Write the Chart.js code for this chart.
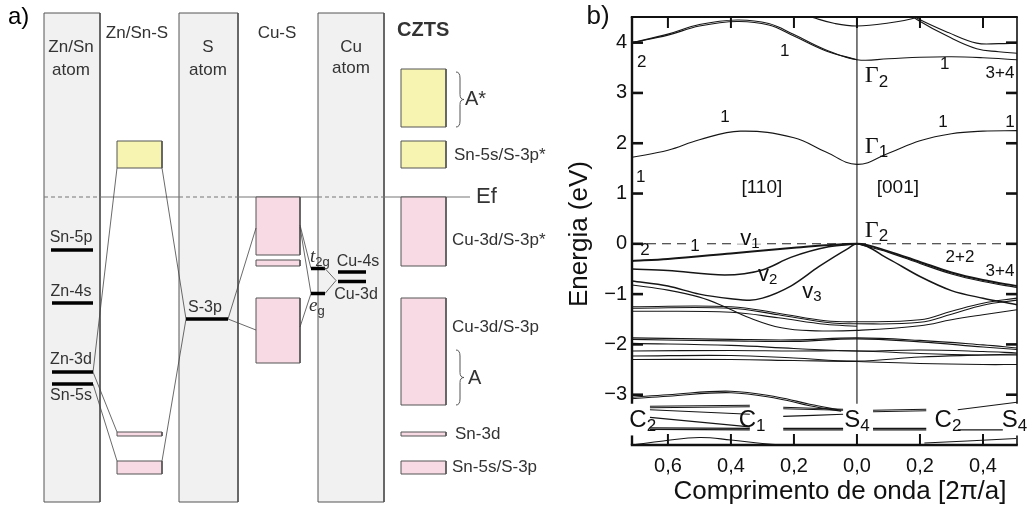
<!DOCTYPE html>
<html>
<head>
<meta charset="utf-8">
<script src="https://cdn.jsdelivr.net/npm/chart.js@4.4.1/dist/chart.umd.min.js"></script>
<style>
  body { margin: 0; background: #fff; width: 1031px; height: 512px; overflow: hidden; position: relative; }
  #ca { position: absolute; left: 0; top: 0; }
  #cb { position: absolute; left: 515px; top: 0; }
</style>
</head>
<body>
<canvas id="ca" width="620" height="512"></canvas>
<canvas id="cb" width="516" height="512"></canvas>
<script>
const FONT = '"Liberation Sans", Arial, sans-serif';
const SERIF = '"Liberation Serif", "Times New Roman", serif';

// ---------- panel a: orbital diagram (x in diagram units, y in energy a.u., Ef = 0) ----------
const atomCols = [[44, 100], [179, 238], [318, 384]];      // Zn/Sn, S, Cu atom
const colTop = 3.68, colBottom = -6.1;
const yellowBoxes = [[117, 162, 1.12, 0.58], [401, 446, 2.56, 1.40], [401, 446, 1.12, 0.58]];
const pinkBoxes = [
	[117, 162, -4.70, -4.78], [117, 162, -5.28, -5.54],
	[256, 300, 0, -1.16], [256, 300, -1.26, -1.38], [256, 300, -2.02, -3.32],
	[401, 446, 0, -1.38], [401, 446, -2.02, -4.16], [401, 446, -4.70, -4.78], [401, 446, -5.28, -5.54]
];
// Sn-5p, Zn-4s, Zn-3d, Sn-5s, S-3p, t2g, eg, Cu-4s, Cu-3d
const levelBars = [
	[51, 93, -1.06], [52, 93, -2.12], [52, 93, -3.50], [52, 93, -3.74],
	[186, 228, -2.44], [311, 325, -1.43], [311, 325, -1.93], [338, 366, -1.50], [338, 366, -1.69]
];
const connectors = [
	[117, 0.58, 93, -3.50], [162, 0.58, 186, -2.44], [93, -3.50, 117, -4.70], [93, -3.74, 117, -5.28],
	[162, -5.28, 186, -2.44], [228, -2.44, 256, -0.62], [228, -2.44, 256, -2.66],
	[300, -0.56, 311, -1.43], [300, -0.60, 311, -1.93], [300, -2.60, 311, -1.93],
	[325, -1.43, 336, -1.67], [325, -1.93, 336, -1.67]
];
const efSolid = [[100, 179], [238, 318], [384, 470]];
const efDashed = [[44, 100], [179, 238], [318, 384]];
const braces = [[458, 2.50, 1.40], [458, -3.06, -4.16]];

const diagramLabels = [
	['a)', 8, 3.60, 24, 'left', ''],
	['Zn/Sn', 71, 3.00, 17, 'center', ''], ['atom', 71, 2.54, 17, 'center', ''],
	['Zn/Sn-S', 137, 3.28, 17, 'center', ''],
	['S', 208, 3.00, 17, 'center', ''], ['atom', 208, 2.54, 17, 'center', ''],
	['Cu-S', 277, 3.28, 17, 'center', ''],
	['Cu', 351, 3.00, 17, 'center', ''], ['atom', 351, 2.58, 17, 'center', ''],
	['CZTS', 397, 3.34, 20, 'left', 'bold'],
	['Sn-5p', 71, -0.82, 16, 'center', ''], ['Zn-4s', 71, -1.90, 16, 'center', ''],
	['Zn-3d', 71, -3.26, 16, 'center', ''], ['Sn-5s', 71, -3.98, 16, 'center', ''],
	['S-3p', 205, -2.22, 16, 'center', ''],
	['Cu-4s', 358, -1.30, 16, 'center', ''], ['Cu-3d', 356, -1.96, 16, 'center', ''],
	['Ef', 476, 0, 22, 'left', ''], ['A*', 465, 1.96, 20, 'left', ''],
	['Sn-5s/S-3p*', 454, 0.84, 17, 'left', ''], ['Cu-3d/S-3p*', 452, -0.86, 17, 'left', ''],
	['Cu-3d/S-3p', 452, -2.60, 17, 'left', ''], ['A', 468, -3.62, 20, 'left', ''],
	['Sn-3d', 455, -4.74, 17, 'left', ''], ['Sn-5s/S-3p', 452, -5.40, 17, 'left', '']
];
const italicLabels = [['t', '2g', 310, -1.20], ['e', 'g', 309, -2.18]];

// ---------- panel b: band structure ----------
const xTicks = [-0.6, -0.4, -0.2, 0, 0.2, 0.4];
const yTicks = [-3, -2, -1, 0, 1, 2, 3, 4];
const kMin = -0.714, kMax = 0.508, eMin = -4.0, eMax = 4.51;
const eBreakTop = -3.18, eBreakBottom = -3.81;

const kC1 = [-0.714, -0.6, -0.5, -0.37, -0.2, -0.1, 0, 0.1, 0.2, 0.3, 0.4, 0.508];
const eC1 = [1.72, 1.86, 2.07, 2.24, 2.11, 1.83, 1.58, 1.80, 2.05, 2.19, 2.24, 2.25];
const kU1 = [-0.714, -0.6, -0.5, -0.38, -0.28, -0.2, -0.1, 0, 0.1, 0.2, 0.3, 0.4, 0.508];
const eU1 = [4.00, 4.17, 4.36, 4.45, 4.38, 4.16, 3.86, 3.66, 3.68, 3.71, 3.72, 3.70, 3.66];
const kU1b = [-0.714, -0.6, -0.5, -0.38, -0.28, -0.2, -0.1, 0];
const eU1b = [4.00, 4.15, 4.33, 4.42, 4.35, 4.13, 3.84, 3.66];
const kU2 = [-0.2, -0.14, -0.07, 0, 0.1, 0.19, 0.25];
const eU2 = [4.62, 4.50, 4.38, 4.33, 4.39, 4.50, 4.65];
const kU3 = [0.17, 0.19, 0.29, 0.38, 0.45, 0.508];
const eU3a = [4.60, 4.49, 4.20, 3.99, 3.98, 3.99];
const eU3b = [4.58, 4.46, 4.12, 3.88, 3.82, 3.79];

const kV1 = [-0.714, -0.6, -0.4, -0.2, -0.1, 0, 0.1, 0.2, 0.3, 0.4, 0.508];
const eV1 = [-0.34, -0.30, -0.19, -0.08, -0.03, 0, -0.15, -0.36, -0.57, -0.72, -0.84];
const kV1b = [0, 0.1, 0.2, 0.3, 0.4, 0.508];
const eV1b = [0, -0.17, -0.39, -0.60, -0.75, -0.87];
const kV2 = [-0.714, -0.6, -0.42, -0.3, -0.21, -0.09, 0];
const eV2 = [-0.50, -0.53, -0.62, -0.52, -0.27, -0.06, 0];
const kV3 = [-0.714, -0.6, -0.5, -0.4, -0.34, -0.3, -0.21, -0.12, -0.03, 0, 0.1, 0.2, 0.3, 0.4, 0.508];
const eV3 = [-0.74, -0.84, -1.00, -1.09, -1.12, -1.08, -0.84, -0.45, -0.10, 0, -0.30, -0.65, -0.93, -1.08, -1.21];
const kV3b = [-0.714, -0.6, -0.5, -0.42, -0.35, -0.24, -0.13, 0, 0.2, 0.3, 0.4, 0.508];
const eV3b = [-0.82, -0.92, -1.06, -1.25, -1.45, -1.67, -1.73, -1.72, -1.63, -1.51, -1.41, -1.31];

const kA = [-0.714, -0.4, -0.25, -0.1, 0, 0.2, 0.3, 0.4, 0.508];
const eA1 = [-1.25, -1.25, -1.38, -1.53, -1.55, -1.51, -1.34, -1.18, -1.08];
const eA1b = [-1.28, -1.28, -1.41, -1.56, -1.59, -1.56, -1.40, -1.22, -1.12];
const kA2 = [-0.714, -0.4, -0.25, -0.1, 0];
const eA2 = [-1.34, -1.36, -1.47, -1.60, -1.64];

const kL = [-0.714, -0.4, -0.2, 0, 0.2, 0.4, 0.508];
const eL1 = [-1.87, -1.90, -1.91, -1.87, -1.92, -2.01, -2.07];
const eL1b = [-1.90, -1.93, -1.94, -1.89, -1.95, -2.05, -2.10];
const eL2 = [-1.98, -2.02, -2.08, -2.13, -2.11, -2.14, -2.17];
const eL3 = [-2.13, -2.12, -2.13, -2.13, -2.18, -2.21, -2.21];
const eL4 = [-2.23, -2.22, -2.27, -2.33, -2.25, -2.21, -2.19];
const eL5 = [-2.30, -2.30, -2.32, -2.34, -2.38, -2.40, -2.40];

const kM = [-0.714, -0.6, -0.4, -0.25, -0.15, -0.05];
const eM1 = [-3.05, -3.00, -2.93, -3.05, -3.19, -3.31];
const eM2 = [-3.08, -3.03, -2.96, -3.08, -3.22, -3.33];

const coreSegs = [
	[-0.657, -3.23, -0.34, -3.21], [-0.657, -3.26, -0.34, -3.24],
	[-0.657, -3.30, -0.34, -3.39], [-0.657, -3.45, -0.34, -3.64],
	[-0.657, -3.66, -0.34, -3.67], [-0.657, -3.69, -0.34, -3.70],
	[-0.234, -3.25, -0.044, -3.29], [-0.234, -3.28, -0.044, -3.31],
	[-0.234, -3.43, -0.044, -3.39],
	[-0.234, -3.67, -0.044, -3.67], [-0.234, -3.70, -0.044, -3.70],
	[0.051, -3.31, 0.22, -3.29], [0.051, -3.34, 0.22, -3.32],
	[0.051, -3.67, 0.22, -3.67], [0.051, -3.70, 0.22, -3.70],
	[0.32, -3.30, 0.508, -3.15], [0.32, -3.70, 0.463, -3.70]
];
const kArcL = [-0.714, -0.615, -0.5, -0.4, -0.3, -0.2];
const eArcL = [-4.0, -3.92, -3.85, -3.9, -3.97, -4.02];
const kArcR = [0.214, 0.35, 0.505];
const eArcR = [-3.96, -3.92, -3.87];

const bandLabels = [
	['2', '', -0.683, 3.60, 'n'], ['1', '', -0.229, 3.83, 'n'], ['Γ', '2', 0.025, 3.34, 'g'],
	['1', '', 0.279, 3.56, 'n'], ['3+4', '', 0.454, 3.40, 'n'],
	['1', '', -0.419, 2.51, 'n'], ['Γ', '1', 0.025, 1.94, 'g'], ['1', '', 0.273, 2.41, 'n'], ['1', '', 0.486, 2.41, 'n'],
	['1', '', -0.686, 1.32, 'n'], ['[110]', '', -0.302, 1.11, 'd'], ['[001]', '', 0.13, 1.11, 'd'],
	['Γ', '2', 0.025, 0.26, 'g'],
	['2', '', -0.673, -0.12, 'n'], ['1', '', -0.514, -0.04, 'nb'], ['v', '1', -0.34, 0.10, 'vb'],
	['v', '2', -0.283, -0.61, 'v'], ['v', '3', -0.143, -0.95, 'v'],
	['2+2', '', 0.327, -0.26, 'n'], ['3+4', '', 0.454, -0.55, 'n'],
	['C', '2', -0.68, -3.52, 's'], ['C', '1', -0.333, -3.52, 's'], ['S', '4', 0, -3.52, 's'],
	['C', '2', 0.289, -3.52, 's'], ['S', '4', 0.5, -3.52, 's']
];

// ---------- helpers ----------
const pts = (ks, es) => ks.map((k, i) => ({ x: k, y: es[i] }));
const rect = (x1, x2, e1, e2) => [{ x: x1, y: e1 }, { x: x2, y: e1 }, { x: x2, y: e2 }, { x: x1, y: e2 }, { x: x1, y: e1 }];

function subText(ctx, main, sub, x, y, font, subFont, subShift, align) {
	ctx.font = font;
	const w1 = ctx.measureText(main).width;
	ctx.font = subFont;
	const w2 = sub ? ctx.measureText(sub).width : 0;
	let x0 = x;
	if (align === 'center') x0 = x - (w1 + w2) / 2;
	ctx.textAlign = 'left';
	ctx.textBaseline = 'middle';
	ctx.font = font;
	ctx.fillText(main, x0, y);
	if (sub) {
		ctx.font = subFont;
		ctx.fillText(sub, x0 + w1, y + subShift);
	}
}

// ---------- chart a ----------
const dsA = [];
atomCols.forEach(c => dsA.push({ data: rect(c[0], c[1], colTop, colBottom), borderColor: '#555', borderWidth: 1, backgroundColor: '#f1f1f1', fill: 'shape', order: 6 }));
efDashed.forEach(s => dsA.push({ data: [{ x: s[0], y: 0 }, { x: s[1], y: 0 }], borderColor: '#777', borderWidth: 1.2, borderDash: [4, 3], order: 5 }));
efSolid.forEach(s => dsA.push({ data: [{ x: s[0], y: 0 }, { x: s[1], y: 0 }], borderColor: '#777', borderWidth: 1.2, order: 5 }));
yellowBoxes.forEach(b => dsA.push({ data: rect(b[0], b[1], b[2], b[3]), borderColor: '#555', borderWidth: 1, backgroundColor: '#f7f4b2', fill: 'shape', order: 4 }));
pinkBoxes.forEach(b => dsA.push({ data: rect(b[0], b[1], b[2], b[3]), borderColor: '#555', borderWidth: 1, backgroundColor: '#f8dae4', fill: 'shape', order: 4 }));
connectors.forEach(c => dsA.push({ data: [{ x: c[0], y: c[1] }, { x: c[2], y: c[3] }], borderColor: '#444', borderWidth: 0.8, order: 3 }));
levelBars.forEach(l => dsA.push({ data: [{ x: l[0], y: l[2] }, { x: l[1], y: l[2] }], borderColor: '#000', borderWidth: 3.5, borderCapStyle: 'butt', order: 2 }));

const diagramText = {
	id: 'diagramText',
	afterDraw(chart) {
		const { ctx } = chart;
		const x = chart.scales.x, y = chart.scales.y;
		ctx.save();
		diagramLabels.forEach(l => {
			ctx.font = (l[5] ? l[5] + ' ' : '') + l[3] + 'px ' + FONT;
			ctx.textAlign = l[4];
			ctx.textBaseline = 'middle';
			ctx.fillStyle = l[0] === 'a)' ? '#000' : '#333';
			ctx.fillText(l[0], x.getPixelForValue(l[1]), y.getPixelForValue(l[2]));
		});
		ctx.fillStyle = '#333';
		italicLabels.forEach(l => {
			subText(ctx, l[0], l[1], x.getPixelForValue(l[2]), y.getPixelForValue(l[3]),
				'italic 19px ' + SERIF, '13px ' + FONT, 5, 'left');
		});
		ctx.strokeStyle = '#555';
		ctx.lineWidth = 1;
		braces.forEach(b => {
			const px = x.getPixelForValue(b[0]);
			const t = y.getPixelForValue(b[1]), bt = y.getPixelForValue(b[2]);
			const m = (t + bt) / 2, w = 4;
			ctx.beginPath();
			ctx.moveTo(px - w / 2, t);
			ctx.quadraticCurveTo(px + w / 2, t, px + w / 2, t + 6);
			ctx.lineTo(px + w / 2, m - 5);
			ctx.quadraticCurveTo(px + w / 2, m, px + w * 1.5, m);
			ctx.quadraticCurveTo(px + w / 2, m, px + w / 2, m + 5);
			ctx.lineTo(px + w / 2, bt - 6);
			ctx.quadraticCurveTo(px + w / 2, bt, px - w / 2, bt);
			ctx.stroke();
		});
		ctx.restore();
	}
};

new Chart(document.getElementById('ca'), {
	type: 'line',
	data: { datasets: dsA },
	options: {
		responsive: false,
		animation: false,
		events: [],
		layout: { padding: 0 },
		elements: { point: { radius: 0 }, line: { tension: 0 } },
		plugins: { legend: { display: false }, tooltip: { enabled: false } },
		scales: {
			x: { type: 'linear', display: false, min: 0, max: 620 },
			y: { type: 'linear', display: false, min: -6.3, max: 3.94 }
		}
	},
	plugins: [diagramText]
});

// ---------- chart b ----------
const band = (ks, es, w, mono) => ({
	data: pts(ks, es), borderColor: '#161616', borderWidth: w || 1.1,
	tension: 0.4, cubicInterpolationMode: mono ? 'monotone' : 'default', fill: false
});
const dsB = [
	band(kC1, eC1), band(kU1, eU1), band(kU1b, eU1b), band(kU2, eU2), band(kU3, eU3a), band(kU3, eU3b),
	band(kV1, eV1, 2, true), band(kV1b, eV1b, 1.1, true), band(kV2, eV2, 1.5, true), band(kV3, eV3, 1.5, true), band(kV3b, eV3b),
	band(kA, eA1), band(kA, eA1b), band(kA2, eA2),
	band(kL, eL1), band(kL, eL1b), band(kL, eL2), band(kL, eL3), band(kL, eL4), band(kL, eL5),
	band(kM, eM1), band(kM, eM2), band(kArcL, eArcL), band(kArcR, eArcR),
	{ data: [{ x: 0, y: eMax }, { x: 0, y: eBreakTop }], borderColor: '#161616', borderWidth: 1.1, tension: 0 },
	{ data: [{ x: kMin, y: 0 }, { x: kMax, y: 0 }], borderColor: '#222', borderWidth: 1.1, borderDash: [9, 6], tension: 0 }
];
coreSegs.forEach(s => dsB.push(band([s[0], s[2]], [s[1], s[3]])));

const bandFrame = {
	id: 'bandFrame',
	afterDraw(chart) {
		const { ctx, chartArea: a } = chart;
		const x = chart.scales.x, y = chart.scales.y;
		const yb1 = y.getPixelForValue(eBreakTop), yb2 = y.getPixelForValue(eBreakBottom);
		ctx.save();
		ctx.strokeStyle = '#111';
		const seg = (x1, y1, x2, y2, w) => { ctx.lineWidth = w; ctx.beginPath(); ctx.moveTo(x1, y1); ctx.lineTo(x2, y2); ctx.stroke(); };
		seg(a.left, a.top, a.left, yb1, 2.4); seg(a.left, yb2, a.left, a.bottom, 2.4);
		seg(a.right, a.top, a.right, yb1, 1.6); seg(a.right, yb2, a.right, a.bottom, 1.6);
		seg(a.left - 1.2, a.top, a.right + 0.8, a.top, 1.8);
		seg(a.left - 1.2, a.bottom, a.right + 0.8, a.bottom, 2.4);
		yTicks.forEach(v => {
			const p = y.getPixelForValue(v);
			seg(a.left, p, a.left + 11, p, 2.6);
			seg(a.right - 11, p, a.right, p, 2.6);
		});
		xTicks.forEach(v => {
			const p = x.getPixelForValue(v);
			seg(p, a.top, p, a.top + 11, 2);
			seg(p, a.bottom - 11, p, a.bottom, 2);
		});

		ctx.fillStyle = '#111';
		bandLabels.forEach(l => {
			const px = x.getPixelForValue(l[2]), py = y.getPixelForValue(l[3]);
			let font, subFont = '', shift = 0, align = 'center';
			if (l[4] === 'g') { font = '24px ' + SERIF; subFont = '17px ' + FONT; shift = 6; align = 'left'; }
			else if (l[4] === 'v' || l[4] === 'vb') { font = '22px ' + FONT; subFont = '15px ' + FONT; shift = 5; }
			else if (l[4] === 's') { font = '24px ' + FONT; subFont = '17px ' + FONT; shift = 5; }
			else if (l[4] === 'd') { font = '19px ' + FONT; }
			else { font = '17px ' + FONT; }
			if (l[4] === 'nb' || l[4] === 'vb') {
				ctx.font = font;
				const w = ctx.measureText(l[0] + l[1]).width + 8;
				ctx.fillStyle = '#fff';
				ctx.fillRect(px - w / 2, py - 5, w, 10);
				ctx.fillStyle = '#111';
			}
			subText(ctx, l[0], l[1], px, py, font, subFont, shift, align);
		});

		ctx.font = '26px ' + FONT;
		ctx.textAlign = 'center';
		ctx.textBaseline = 'middle';
		ctx.fillText('Comprimento de onda [2π/a]', 325, 492);
		ctx.fillText('b)', 83, 17);
		ctx.save();
		ctx.translate(65, 234);
		ctx.rotate(-Math.PI / 2);
		ctx.fillText('Energia (eV)', 0, 0);
		ctx.restore();
		ctx.restore();
	}
};

new Chart(document.getElementById('cb'), {
	type: 'line',
	data: { datasets: dsB },
	options: {
		responsive: false,
		animation: false,
		events: [],
		layout: { padding: { top: 14, right: 14, left: 0, bottom: 0 } },
		elements: { point: { radius: 0 } },
		plugins: { legend: { display: false }, tooltip: { enabled: false } },
		scales: {
			x: {
				type: 'linear', min: kMin, max: kMax,
				afterBuildTicks: s => { s.ticks = xTicks.map(v => ({ value: v })); },
				afterFit: s => { s.height = 67; },
				grid: { display: false, drawTicks: false },
				border: { display: false },
				ticks: {
					autoSkip: false, maxRotation: 0, padding: 9, color: '#111',
					font: { size: 20, family: FONT },
					callback: v => Math.abs(v).toFixed(1).replace('.', ',')
				}
			},
			y: {
				type: 'linear', min: eMin, max: eMax,
				afterBuildTicks: s => { s.ticks = yTicks.map(v => ({ value: v })); },
				afterFit: s => { s.width = 117; },
				grid: { display: false, drawTicks: false },
				border: { display: false },
				ticks: {
					autoSkip: false, padding: 5, color: '#111',
					font: { size: 20, family: FONT },
					callback: v => (v < 0 ? '\u2212' + Math.abs(v) : String(v))
				}
			}
		}
	},
	plugins: [bandFrame]
});
</script>
</body>
</html>
